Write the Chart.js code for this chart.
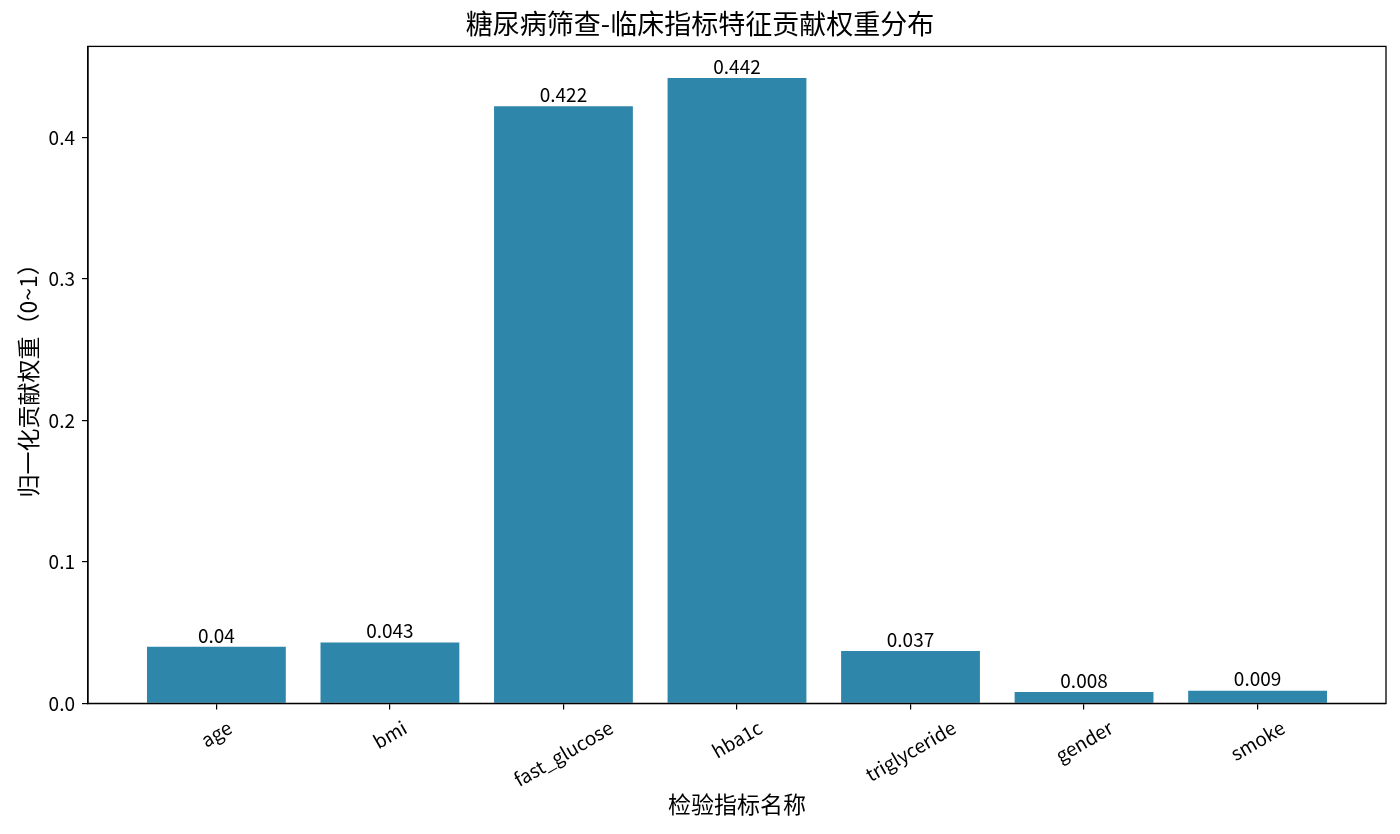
<!DOCTYPE html>
<html>
<head>
	<meta charset="UTF-8">
	<title>糖尿病筛查-临床指标特征贡献权重分布</title>
	<style>
		html, body { margin: 0; padding: 0; background: #fff; }
		#wrap { width: 1400px; height: 834px; }
	</style>
	<script src="https://cdn.jsdelivr.net/npm/chart.js@4/dist/chart.umd.min.js"></script>
</head>
<body>
	<div id="wrap"><canvas id="canvas"></canvas></div>
	<script>
		var FONT = '"Noto Sans CJK SC", "Noto Sans", sans-serif';

		var features = ['age', 'bmi', 'fast_glucose', 'hba1c', 'triglyceride', 'gender', 'smoke'];
		var weights = [0.04, 0.043, 0.422, 0.442, 0.037, 0.008, 0.009];
		var yTicks = [0.0, 0.1, 0.2, 0.3, 0.4];

		var barColor = '#2E86AB';
		var TICK_SIZE = 19;

		// frame on all four sides, like the matplotlib axes box
		var frame = {
			id: 'frame',
			afterDraw: function(chart){
				var a = chart.chartArea, ctx = chart.ctx;
				ctx.save();
				ctx.strokeStyle = '#000';
				ctx.lineWidth = 1.3;
				ctx.strokeRect(a.left, a.top, a.right - a.left, a.bottom - a.top);
				ctx.restore();
			}
		};

		// value text over each bar
		var barText = {
			id: 'barText',
			afterDatasetsDraw: function(chart){
				var ctx = chart.ctx;
				var meta = chart.getDatasetMeta(0);
				ctx.save();
				ctx.font = TICK_SIZE + 'px ' + FONT;
				ctx.fillStyle = '#000';
				ctx.textAlign = 'center';
				ctx.textBaseline = 'bottom';
				meta.data.forEach(function(bar, i){
					ctx.fillText(String(weights[i]), bar.x, bar.y - 2);
				});
				ctx.restore();
			}
		};

		// rotated category names, centred under the tick
		var xNames = {
			id: 'xNames',
			afterDraw: function(chart){
				var ctx = chart.ctx, sx = chart.scales.x;
				var ang = 30 * Math.PI / 180;
				ctx.save();
				ctx.font = TICK_SIZE + 'px ' + FONT;
				ctx.fillStyle = '#000';
				features.forEach(function(name, i){
					var w = ctx.measureText(name).width;
					var h = TICK_SIZE * 1.15;
					var bh = w * Math.sin(ang) + h * Math.cos(ang);
					var cx = sx.getPixelForValue(i);
					var cy = chart.chartArea.bottom + 13 + bh / 2;
					ctx.save();
					ctx.translate(cx, cy);
					ctx.rotate(-ang);
					ctx.textAlign = 'center';
					ctx.textBaseline = 'middle';
					ctx.fillText(name, 0, 0);
					ctx.restore();
				});
				ctx.restore();
			}
		};

		new Chart(document.getElementById('canvas').getContext('2d'), {
			type: 'bar',
			data: {
				datasets: [{
					label: '归一化贡献权重',
					data: weights.map(function(v, i){ return { x: i, y: v }; }),
					backgroundColor: barColor,
					borderWidth: 0,
					barPercentage: 0.8,
					categoryPercentage: 1.0
				}]
			},
			options: {
				responsive: true,
				maintainAspectRatio: false,
				animation: false,
				layout: { padding: { left: 14, right: 14, top: 0, bottom: 10 } },
				plugins: {
					legend: { display: false },
					tooltip: { enabled: false },
					title: {
						display: true,
						text: '糖尿病筛查-临床指标特征贡献权重分布',
						color: '#000',
						font: { family: FONT, size: 27, weight: 'normal' },
						padding: { top: 8, bottom: 6 }
					}
				},
				scales: {
					x: {
						type: 'linear',
						min: -0.74,
						max: 6.74,
						offset: false,
						afterBuildTicks: function(axis){
							axis.ticks = features.map(function(f, i){ return { value: i }; });
						},
						ticks: {
							color: 'rgba(0,0,0,0)',
							font: { family: FONT, size: TICK_SIZE },
							minRotation: 30,
							maxRotation: 30,
							padding: 0,
							callback: function(v){ return features[v]; }
						},
						grid: { offset: false, drawOnChartArea: false, drawTicks: true, tickLength: 6, color: '#000', lineWidth: 1.2 },
						border: { display: true, color: '#000', width: 1.3 },
						title: {
							display: true,
							text: '检验指标名称',
							color: '#000',
							font: { family: FONT, size: 23 },
							padding: { top: 6, bottom: 6 }
						}
					},
					y: {
						min: 0,
						max: 0.4643,
						afterBuildTicks: function(axis){
							axis.ticks = yTicks.map(function(v){ return { value: v }; });
						},
						ticks: {
							color: '#000',
							font: { family: FONT, size: TICK_SIZE },
							padding: 7,
							callback: function(v){ return v.toFixed(1); }
						},
						grid: { drawOnChartArea: false, drawTicks: true, tickLength: 6, color: '#000', lineWidth: 1.2 },
						border: { display: true, color: '#000', width: 1.3 },
						title: {
							display: true,
							text: '归一化贡献权重（0~1）',
							color: '#000',
							font: { family: FONT, size: 23 },
							padding: { top: 0, bottom: 0 }
						}
					}
				}
			},
			plugins: [frame, barText, xNames]
		});
	</script>
</body>
</html>
